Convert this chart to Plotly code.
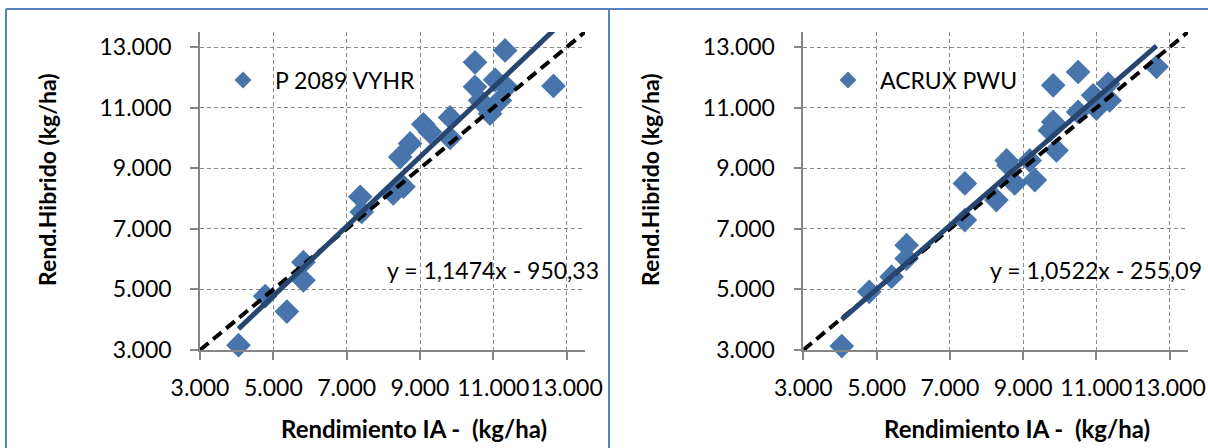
import plotly.graph_objects as go

# ---------------- data ----------------
x_left = [4050, 4780, 5370, 5820, 5820, 7370, 7410, 8270, 8550, 8460, 8730, 9090, 9270,
          9820, 9820, 10500, 11320, 10500, 11050, 11360, 10640, 10910, 11180, 12640]
y_left = [3160, 4780, 4270, 5900, 5300, 8060, 7560, 8170, 8390, 9370, 9820, 10450, 10200,
          10680, 10000, 12500, 12890, 11690, 11920, 11680, 11240, 10800, 11240, 11720]
name_left = "P 2089 VYHR"
slope_left, icpt_left = 1.1474, -950.33

x_right = [4050, 4800, 5410, 5820, 5820, 7410, 7410, 8270, 8550, 8600, 8770, 9180, 9320,
           9820, 9820, 9730, 9910, 10500, 10500, 10910, 11000, 11320, 11360, 12640]
y_right = [3130, 4920, 5420, 6460, 6020, 8500, 7290, 7950, 9260, 9100, 8500, 9260, 8610,
           11740, 10530, 10250, 9590, 12180, 10860, 11410, 10970, 11790, 11240, 12350]
name_right = "ACRUX PWU"
slope_right, icpt_right = 1.0522, -255.09

ref_line = [3000, 13500]          # 1:1 line
axis_range = [3000, 13500]
tick_vals = [3000, 5000, 7000, 9000, 11000, 13000]
x_title = "Rendimiento IA -  (kg/ha)"
y_title = "Rend.Hibrido (kg/ha)"

# ---------------- styling ----------------
W, H = 1208, 448
FONT = "Lato"
MARKER = "#4674AB"
TREND = "#264670"
GRID = "#8a8a8a"
AXIS = "#868686"
BORDER = "#5682c0"

def px(v):
    return v / W

def py(v):
    return 1 - v / H

def eq_text(s, b):
    sign = "-" if b < 0 else "+"
    return ("y = %sx %s %s" % (f"{s:.4f}", sign, f"{abs(b):.2f}")).replace(".", ",")

fig = go.Figure()

panels = [
    (x_left, y_left, name_left, slope_left, icpt_left, "x", "y", "legend", 0),
    (x_right, y_right, name_right, slope_right, icpt_right, "x2", "y2", "legend2", 603),
]

for xs, ys, nm, s, b, xa, ya, lg, off in panels:
    fig.add_trace(go.Scatter(
        x=xs, y=ys, mode="markers", xaxis=xa, yaxis=ya, showlegend=False,
        marker=dict(symbol="diamond", size=19, color=MARKER, line=dict(width=0)),
        cliponaxis=False, hoverinfo="skip"))
    # legend-only entry
    fig.add_trace(go.Scatter(
        x=[None], y=[None], mode="markers", xaxis=xa, yaxis=ya, name=nm, legend=lg,
        showlegend=True, marker=dict(symbol="diamond", size=13, color=MARKER)))
    fig.add_trace(go.Scatter(
        x=ref_line, y=ref_line, mode="lines", xaxis=xa, yaxis=ya, showlegend=False,
        line=dict(color="black", width=4, dash="11px,6px"), hoverinfo="skip"))
    xmin, xmax = min(xs), max(xs)
    fig.add_trace(go.Scatter(
        x=[xmin, xmax], y=[s * xmin + b, s * xmax + b], mode="lines",
        xaxis=xa, yaxis=ya, showlegend=False,
        line=dict(color=TREND, width=5), hoverinfo="skip"))
    fig.add_annotation(
        xref="paper", yref="paper", x=px(385 + off), y=py(270),
        xanchor="left", yanchor="middle", showarrow=False,
        text=eq_text(s, b), font=dict(family=FONT, size=23, color="black"))
    fig.add_annotation(
        xref="paper", yref="paper", x=px(414 + off), y=py(428),
        xanchor="center", yanchor="middle", showarrow=False,
        text="<b>%s</b>" % x_title, font=dict(family=FONT, size=24, color="black"))
    fig.add_annotation(
        xref="paper", yref="paper", x=px(47 + off), y=py(180),
        xanchor="center", yanchor="middle", showarrow=False, textangle=-90,
        text="<b>%s</b>" % y_title, font=dict(family=FONT, size=23, color="black"))

axis_common = dict(
    range=axis_range, tickvals=tick_vals, tickformat=",.0f",
    showgrid=True, gridcolor=GRID, gridwidth=1, griddash="4px,3px",
    showline=True, linecolor=AXIS, linewidth=1.5,
    ticks="outside", ticklen=8, tickcolor=AXIS, tickwidth=1.5,
    zeroline=False, tickangle=0, automargin=False,
    tickfont=dict(family=FONT, size=23, color="black"),
)

ydom = [py(350), py(32)]
fig.update_layout(
    width=W, height=H, margin=dict(l=0, r=0, t=0, b=0, pad=0, autoexpand=False),
    paper_bgcolor="white", plot_bgcolor="white",
    separators=",.",
    xaxis=dict(domain=[px(200), px(585)], anchor="y", ticklabelstandoff=9, **axis_common),
    yaxis=dict(domain=ydom, anchor="x", ticklabelstandoff=14, **axis_common),
    xaxis2=dict(domain=[px(803.3), px(1188)], anchor="y2", ticklabelstandoff=9, **axis_common),
    yaxis2=dict(domain=ydom, anchor="x2", ticklabelstandoff=14, **axis_common),
    legend=dict(x=px(211), y=py(80), xanchor="left", yanchor="middle",
                bgcolor="rgba(0,0,0,0)", itemwidth=54,
                font=dict(family=FONT, size=23, color="black")),
    legend2=dict(x=px(816), y=py(80), xanchor="left", yanchor="middle",
                 bgcolor="rgba(0,0,0,0)", itemwidth=54,
                 font=dict(family=FONT, size=23, color="black")),
    showlegend=True,
    shapes=[
        dict(type="line", xref="paper", yref="paper", x0=px(6), x1=1, y0=py(9), y1=py(9),
             line=dict(color=BORDER, width=2)),
        dict(type="line", xref="paper", yref="paper", x0=px(6), x1=px(6), y0=py(9), y1=0,
             line=dict(color=BORDER, width=2)),
        dict(type="line", xref="paper", yref="paper", x0=px(609), x1=px(609), y0=py(9), y1=0,
             line=dict(color=BORDER, width=2)),
    ],
)

fig.write_html("out.html")
